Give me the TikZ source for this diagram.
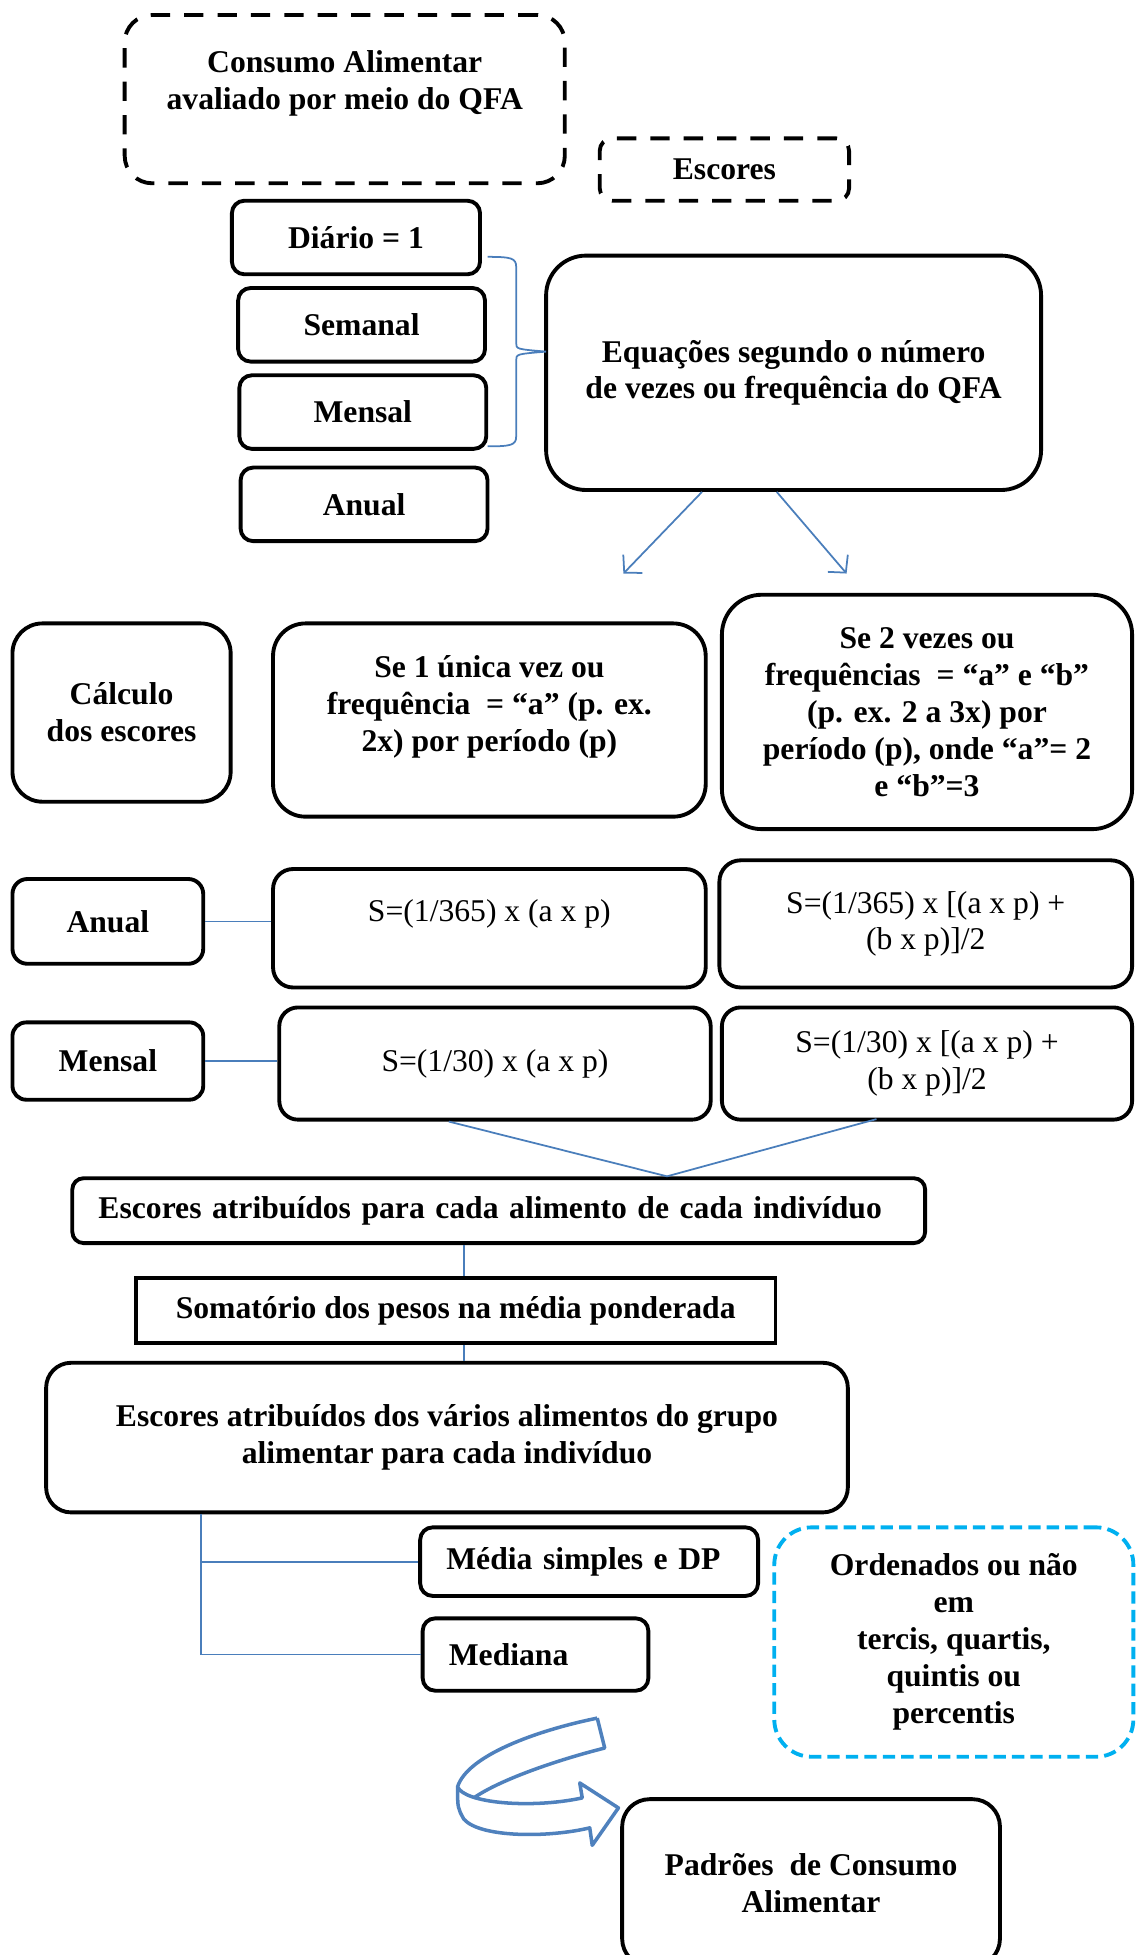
\documentclass[tikz,border=0pt]{standalone}
\usepackage{fontspec}
\setmainfont{Liberation Serif}
\usetikzlibrary{arrows.meta,calc}
\definecolor{linkblue}{HTML}{4A7EBB}
\definecolor{arrowblue}{HTML}{4F81BD}
\definecolor{skyblue}{HTML}{00B0F0}
\newlength{\upx}
\setlength{\upx}{0.02494cm}
\tikzset{
  box/.style={draw, line width=2.2pt, rounded corners=10\upx, align=center, inner sep=0pt,
    font=\fontsize{18}{21}\selectfont\bfseries},
  plainbox/.style={box, font=\fontsize{18}{21}\selectfont},
  dashbox/.style={box, dash pattern=on 11pt off 8pt},
  skybox/.style={box, draw=skyblue, dash pattern=on 7pt off 3.5pt},
  leftbox/.style={box, align=left, text width=#1},
  txt/.style={align=center, inner sep=0pt, font=\fontsize{18}{21}\selectfont\bfseries},
  con/.style={draw=linkblue, line width=1pt},
}

\begin{document}
\begin{tikzpicture}[x=0.02494cm, y=-0.02494cm]
\useasboundingbox (0,0) rectangle (911,1568);

% questionario e escores
\node[dashbox, rounded corners=22\upx, minimum width=353\upx, minimum height=135\upx] (consumo) at (276.5,79.5) {};
\node[txt] (consumotxt) at (276.5,67) {Consumo Alimentar\\avaliado por meio do QFA};
\node[dashbox, minimum width=200\upx, minimum height=50\upx] (escores) at (581,136) {Escores};

% frequencias
\node[box, minimum width=199\upx, minimum height=59\upx] (diario) at (285.5,190.5) {Diário = 1};
\node[box, minimum width=198\upx, minimum height=59\upx] (semanal) at (290,260.5) {Semanal};
\node[box, minimum width=198\upx, minimum height=59\upx] (mensal) at (291,330.5) {Mensal};
\node[box, minimum width=198\upx, minimum height=59\upx] (anual) at (292,404.5) {Anual};
\node[box, rounded corners=32\upx, minimum width=397\upx, minimum height=188\upx] (equacoes) at (636.5,299)
  {Equações segundo o número\\de vezes ou frequência do QFA};

\draw[con] (391,206) .. controls (410,206) and (414,207) .. (414,214) -- (414,275)
  .. controls (414,280) .. (438,282) .. controls (414,284) .. (414,289) -- (414,350)
  .. controls (414,357) and (410,358) .. (391,358);

\coordinate (la) at (500,460);
\coordinate (ra) at (679,460);
\draw[con, -{Straight Barb[length=7pt,width=15pt]}] ($(equacoes.south)+(-73.5,0)$) -- (la);
\draw[con, -{Straight Barb[length=7pt,width=15pt]}] ($(equacoes.south)+(-13.5,0)$) -- (ra);

% calculo
\node[box, rounded corners=24\upx, minimum width=175\upx, minimum height=143\upx] (calculo) at (97.5,571.5) {Cálculo\\dos escores};
\node[box, rounded corners=26\upx, minimum width=347\upx, minimum height=155\upx] (umavez) at (392.5,577.5) {};
\node[txt] (umaveztxt) at (392.5,567) {Se 1 única vez ou\\frequência ~= “a” (p. ex.\\2x) por período (p)};
\node[box, rounded corners=32\upx, minimum width=329\upx, minimum height=188\upx] (duasvezes) at (743.5,571)
  {Se 2 vezes ou\\frequências ~= “a” e “b”\\(p. ex. 2 a 3x) por\\período (p), onde “a”= 2\\e “b”=3};

\node[box, rounded corners=12\upx, minimum width=153\upx, minimum height=68\upx] (anualb) at (86.5,739) {Anual};
\node[plainbox, rounded corners=16\upx, minimum width=347\upx, minimum height=95\upx] (anuala) at (392.5,744.5) {};
\node[txt, font=\fontsize{18}{21}\selectfont] (anualatxt) at (392.5,733) {S=(1/365) x (a x p)};
\node[plainbox, rounded corners=17\upx, minimum width=331\upx, minimum height=102\upx] (anualab) at (742.5,741)
  {S=(1/365) x [(a x p) +\\(b x p)]/2};

\node[box, rounded corners=11\upx, minimum width=153\upx, minimum height=62\upx] (mensalb) at (86.5,851) {Mensal};
\node[plainbox, rounded corners=15\upx, minimum width=346\upx, minimum height=90\upx] (mensala) at (397,853) {S=(1/30) x (a x p)};
\node[plainbox, rounded corners=15\upx, minimum width=329\upx, minimum height=90\upx] (mensalab) at (743.5,853)
  {S=(1/30) x [(a x p) +\\(b x p)]/2};

\draw[con] (anualb.east) -- (anualb.east -| anuala.west);
\draw[con] (mensalb.east) -- (mensalb.east -| mensala.west);

% escores finais
\node[leftbox=642\upx, rounded corners=9\upx, minimum width=684\upx, minimum height=52\upx] (alimento) at (400,971)
  {Escores atribuídos para cada alimento de cada indivíduo};
\coordinate (vj) at ($(alimento.north)+(135,0)$);
\draw[con] ($(mensala.south)+(-37,0)$) -- (vj) -- ($(mensalab.south)+(-40.5,-2)$);

\node[box, sharp corners, minimum width=513\upx, minimum height=52\upx] (soma) at (365.5,1051)
  {Somatório dos pesos na média ponderada};
\node[box, rounded corners=20\upx, minimum width=643\upx, minimum height=120\upx] (grupo) at (358.5,1153)
  {Escores atribuídos dos vários alimentos do grupo\\alimentar para cada indivíduo};
\coordinate (sx) at ($(soma.north)+(6.5,0)$);
\draw[con] (alimento.south -| sx) -- (sx);
\draw[con] (soma.south -| sx) -- (grupo.north -| sx);

\node[leftbox=229\upx, minimum width=271\upx, minimum height=55\upx] (media) at (472.5,1252.5) {Média simples e DP};
\node[leftbox=139\upx, minimum width=181\upx, minimum height=58\upx] (mediana) at (429.5,1327) {Mediana};
\coordinate (bk) at (161,1327);
\draw[con] (grupo.south -| bk) -- (bk) -- (mediana.west);
\draw[con] (bk |- media.west) -- (media.west);

\node[skybox, rounded corners=30\upx, minimum width=288\upx, minimum height=184\upx] (ordem) at (765,1317)
  {Ordenados ou não\\em\\tercis, quartis,\\quintis ou\\percentis};

% seta curva
\draw[arrowblue, line width=2pt, line join=round]
  (479,1378) -- (485,1402) .. controls (445,1412) and (400,1428) .. (380,1442);
\draw[arrowblue, line width=2pt, line join=round]
  (479,1378) .. controls (430,1388) and (375,1408) .. (367,1433)
  .. controls (372,1446) and (425,1451) .. (467,1442) -- (465,1430) -- (496,1450) -- (475,1480) -- (473,1466)
  .. controls (440,1474) and (385,1474) .. (372,1459) .. controls (367,1450) .. (367,1433);

\node[box, rounded corners=22\upx, minimum width=303\upx, minimum height=134\upx] (padroes) at (650.5,1510)
  {Padrões ~de Consumo\\Alimentar};
\end{tikzpicture}
\end{document}
